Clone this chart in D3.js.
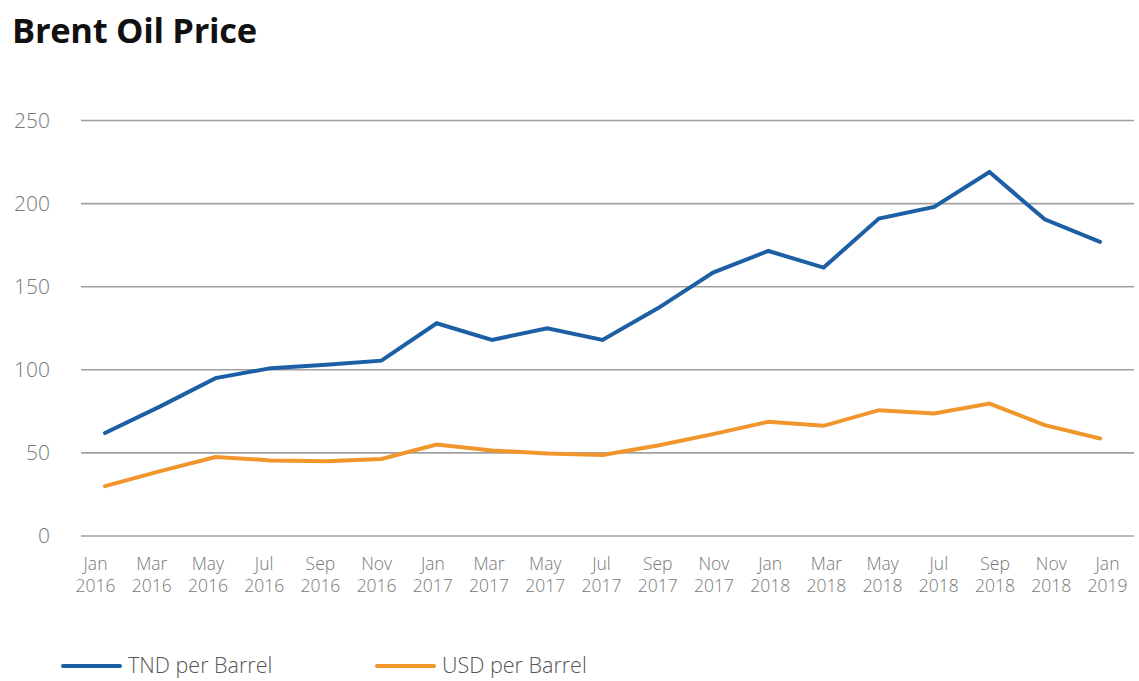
<!DOCTYPE html>
<html>
<head>
<meta charset="utf-8">
<script src="https://cdn.jsdelivr.net/npm/d3@7"></script>
<style>
  html, body { margin: 0; padding: 0; background: #fff; }
  svg { display: block; }
</style>
</head>
<body>
<div id="chart"></div>
<script>
// Bi-monthly observation dates
const months = ["Jan","Mar","May","Jul","Sep","Nov","Jan","Mar","May","Jul","Sep","Nov","Jan","Mar","May","Jul","Sep","Nov","Jan"];
const years  = ["2016","2016","2016","2016","2016","2016","2017","2017","2017","2017","2017","2017","2018","2018","2018","2018","2018","2018","2019"];
const categories = months.map((m, i) => m + " " + years[i]);

// Brent price, Tunisian dinar per barrel
const tndPerBarrel = [62, 78, 95, 101, 103, 105.5, 128, 118, 125, 118, 137, 158.5, 171.5, 161.5, 191, 198, 219, 190.5, 177];
// Brent price, US dollar per barrel
const usdPerBarrel = [30, 39, 47.5, 45.5, 45, 46.3, 55, 51.5, 49.7, 48.7, 54.5, 61.3, 68.7, 66.3, 75.7, 73.7, 79.7, 66.7, 58.7];

const yTicks = [0, 50, 100, 150, 200, 250];

const series = [
  { name: "TND per Barrel", values: tndPerBarrel, color: "#1d5fa4" },
  { name: "USD per Barrel", values: usdPerBarrel, color: "#f1952d" }
];

const W = 1139, H = 681;
const svg = d3.select("#chart").append("svg").attr("width", W).attr("height", H);

const font = "'Open Sans', 'Noto Sans', sans-serif";

// Title
svg.append("text")
  .attr("x", 12).attr("y", 43)
  .attr("font-family", font)
  .attr("font-weight", 700)
  .attr("font-size", 34.5)
  .attr("letter-spacing", -0.3)
  .attr("fill", "#111")
  .text("Brent Oil Price");

const grid = { left: 81, right: 1134 };
const x = d3.scalePoint().domain(categories).range([105, 1100]);
const xLabel = d3.scalePoint().domain(categories).range([95, 1107]);
const y = d3.scaleLinear().domain([0, 250]).range([536, 120.5]);

// Horizontal gridlines
svg.append("g")
  .selectAll("line")
  .data(yTicks)
  .join("line")
  .attr("x1", grid.left).attr("x2", grid.right)
  .attr("y1", d => y(d)).attr("y2", d => y(d))
  .attr("stroke", "#a0a0a0")
  .attr("stroke-width", 1.6);

// Y-axis labels
const yAxis = d3.axisLeft(y).tickValues(yTicks).tickSize(0).tickPadding(0);
const gy = svg.append("g").attr("transform", "translate(50,0)").call(yAxis);
gy.select(".domain").remove();
gy.selectAll("text")
  .attr("font-family", font)
  .attr("font-weight", 300)
  .attr("font-size", 21)
  .attr("fill", "#777");

// X-axis labels (two lines: month, year)
const xAxis = d3.axisBottom(xLabel).tickSize(0).tickFormat(() => "");
const gx = svg.append("g").attr("transform", "translate(0,548)").call(xAxis);
gx.select(".domain").remove();
gx.selectAll(".tick text").remove();
gx.selectAll(".tick").each(function(d, i) {
  const t = d3.select(this);
  t.append("text")
    .attr("text-anchor", "middle")
    .attr("font-family", font)
    .attr("font-weight", 300)
    .attr("font-size", 17.5)
    .attr("fill", "#777")
    .attr("y", 22)
    .text(months[i]);
  t.append("text")
    .attr("text-anchor", "middle")
    .attr("font-family", font)
    .attr("font-weight", 300)
    .attr("font-size", 17.5)
    .attr("fill", "#777")
    .attr("y", 44)
    .text(years[i]);
});

// Series lines
const line = d3.line()
  .x((d, i) => x(categories[i]))
  .y(d => y(d));

svg.append("g")
  .selectAll("path")
  .data(series.slice().reverse())
  .join("path")
  .attr("d", d => line(d.values))
  .attr("fill", "none")
  .attr("stroke", d => d.color)
  .attr("stroke-width", 4)
  .attr("stroke-linejoin", "miter")
  .attr("stroke-linecap", "round");

// Legend
const legendX = [63, 377];
const lg = svg.append("g").selectAll("g")
  .data(series)
  .join("g")
  .attr("transform", (d, i) => `translate(${legendX[i]},666)`);
lg.append("line")
  .attr("x1", 0).attr("x2", 57)
  .attr("y1", 0).attr("y2", 0)
  .attr("stroke", d => d.color)
  .attr("stroke-width", 4)
  .attr("stroke-linecap", "round");
lg.append("text")
  .attr("x", 65).attr("y", 7)
  .attr("font-family", font)
  .attr("font-weight", 300)
  .attr("font-size", 21.5)
  .attr("fill", "#555")
  .text(d => d.name);
</script>
</body>
</html>
